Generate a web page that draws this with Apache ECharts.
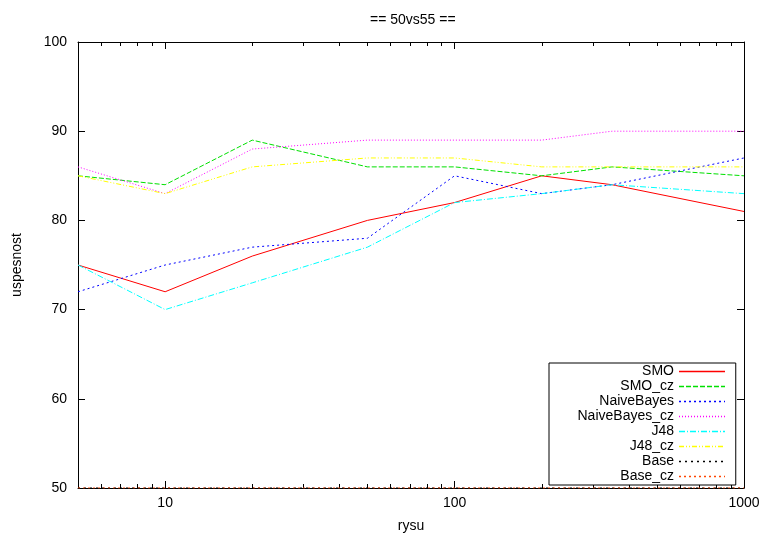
<!DOCTYPE html>
<html>
<head>
<meta charset="utf-8">
<script src="https://cdn.jsdelivr.net/npm/echarts@6/dist/echarts.min.js"></script>
<style>
html, body { margin: 0; padding: 0; background: #fff; }
#chart { width: 767px; height: 538px; }
</style>
</head>
<body>
<div id="chart"></div>
<script>
// data
var rysu = [5, 10, 20, 50, 100, 200, 350, 1000];
var smo = [75, 72, 76, 80, 82, 85, 84, 81];
var smoCz = [85, 84, 89, 86, 86, 85, 86, 85];
var naiveBayes = [72, 75, 77, 78, 85, 83, 84, 87];
var naiveBayesCz = [86, 83, 88, 89, 89, 89, 90, 90];
var j48 = [75, 70, 73, 77, 82, 83, 84, 83];
var j48Cz = [85, 83, 86, 87, 87, 86, 86, 86];
var base = [50, 50, 50, 50, 50, 50, 50, 50];
var baseCz = [50, 50, 50, 50, 50, 50, 50, 50];
var minorTicks = [6, 7, 8, 9, 20, 30, 40, 50, 60, 70, 80, 90, 200, 300, 400, 500, 600, 700, 800, 900];

var FONT = 'Liberation Sans, Arial, sans-serif';

function pairs(ys) {
  return rysu.map(function (x, i) { return [x, ys[i]]; });
}

function lineSeries(name, ys, color, type) {
  return {
    name: name,
    type: 'line',
    data: pairs(ys),
    symbol: 'none',
    animation: false,
    lineStyle: { color: color, width: 1, type: type },
    itemStyle: { color: color }
  };
}

var series = [
  lineSeries('SMO', smo, '#ff0000', 'solid'),
  lineSeries('SMO_cz', smoCz, '#00e000', [5, 2]),
  lineSeries('NaiveBayes', naiveBayes, '#0000ff', [2, 3]),
  lineSeries('NaiveBayes_cz', naiveBayesCz, '#ff00ff', [1, 2]),
  lineSeries('J48', j48, '#00ffff', [6, 2, 1, 2]),
  lineSeries('J48_cz', j48Cz, '#ffff00', [5, 2, 1, 2, 1, 2]),
  lineSeries('Base', base, '#000000', [2, 4]),
  lineSeries('Base_cz', baseCz, '#ff4500', [2, 3])
];

series.push({
  // minor ticks of the log axis (bottom and top)
  name: 'minor',
  type: 'custom',
  silent: true,
  animation: false,
  data: minorTicks.map(function (v) { return [v, 50]; }),
  encode: { x: 0, y: 1 },
  renderItem: function (params, api) {
    var b = api.coord([api.value(0), 50]);
    var t = api.coord([api.value(0), 100]);
    var x = Math.round(b[0]) + 0.5;
    return {
      type: 'group',
      children: [
        { type: 'line', shape: { x1: x, y1: b[1], x2: x, y2: b[1] - 4 }, style: { stroke: '#000', lineWidth: 1 } },
        { type: 'line', shape: { x1: x, y1: t[1], x2: x, y2: t[1] + 4 }, style: { stroke: '#000', lineWidth: 1 } }
      ]
    };
  }
});

var chart = echarts.init(document.getElementById('chart'));

var option = {
  backgroundColor: '#fff',
  animation: false,
  title: {
    text: '== 50vs55 ==',
    left: 365,
    top: 8,
    textStyle: { fontFamily: FONT, fontSize: 14, fontWeight: 'normal', color: '#000' }
  },
  grid: { left: 78, right: 23, top: 42, bottom: 48, containLabel: false },
  legend: {
    orient: 'vertical',
    left: 549,
    top: 363,
    align: 'right',
    padding: [1, 10, 1, 8],
    itemGap: 0,
    itemWidth: 46,
    itemHeight: 11,
    borderColor: '#000',
    borderWidth: 1,
    backgroundColor: '#fff',
    itemStyle: { opacity: 0 },
    lineStyle: { width: 1.5 },
    data: ['SMO', 'SMO_cz', 'NaiveBayes', 'NaiveBayes_cz', 'J48', 'J48_cz', 'Base', 'Base_cz'],
    textStyle: { fontFamily: FONT, fontSize: 14, color: '#000', width: 117, align: 'right', lineHeight: 15 }
  },
  xAxis: [
    {
      type: 'log', logBase: 10, min: 5, max: 1000, position: 'bottom',
      name: 'rysu', nameLocation: 'middle', nameGap: 31,
      nameTextStyle: { fontFamily: FONT, fontSize: 14, color: '#000' },
      axisLine: { onZero: false, lineStyle: { color: '#000', width: 1 } },
      axisTick: { inside: true, length: 7, lineStyle: { color: '#000' } },
      axisLabel: {
        showMinLabel: false, margin: 8, fontFamily: FONT, fontSize: 14, color: '#000',
        formatter: function (v) { return String(Math.round(v)); }
      },
      splitLine: { show: false }
    },
    {
      type: 'log', logBase: 10, min: 5, max: 1000, position: 'top',
      axisLine: { onZero: false, lineStyle: { color: '#000', width: 1 } },
      axisTick: { inside: true, length: 7, lineStyle: { color: '#000' } },
      axisLabel: { show: false },
      splitLine: { show: false }
    }
  ],
  yAxis: [
    {
      type: 'value', min: 50, max: 100, interval: 10, position: 'left',
      name: 'uspesnost', nameLocation: 'middle', nameGap: 54,
      nameTextStyle: { fontFamily: FONT, fontSize: 14, color: '#000' },
      axisLine: { show: true, onZero: false, lineStyle: { color: '#000', width: 1 } },
      axisTick: { show: true, inside: true, length: 7, lineStyle: { color: '#000' } },
      axisLabel: { margin: 11, fontFamily: FONT, fontSize: 14, color: '#000' },
      splitLine: { show: false }
    },
    {
      type: 'value', min: 50, max: 100, interval: 10, position: 'right',
      axisLine: { show: true, onZero: false, lineStyle: { color: '#000', width: 1 } },
      axisTick: { show: true, inside: true, length: 7, lineStyle: { color: '#000' } },
      axisLabel: { show: false },
      splitLine: { show: false }
    }
  ],
  series: series
};

chart.setOption(option);

window.addEventListener('resize', function () {
  chart.resize();
});
</script>
</body>
</html>
